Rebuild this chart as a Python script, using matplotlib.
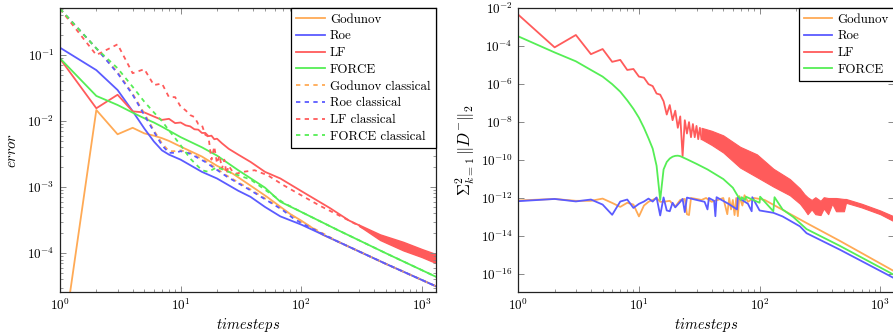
import numpy as np
import matplotlib
matplotlib.use("Agg")
import matplotlib.pyplot as plt
from matplotlib.ticker import LogLocator, FixedLocator, NullLocator, NullFormatter

plt.rcParams["font.family"] = "serif"
plt.rcParams["font.serif"] = ["cmr10", "DejaVu Serif"]
plt.rcParams["mathtext.fontset"] = "cm"
plt.rcParams["axes.formatter.use_mathtext"] = True

C_GOD = "#FFAA55"
C_ROE = "#5B5BFF"
C_LF = "#FF5B5B"
C_FORCE = "#55EE55"

# ---------------- error vs. timesteps ----------------
god_t = [1, 2, 3, 4, 5, 6, 7, 8, 10, 15, 20, 27, 38, 52, 81, 100, 150, 200, 500, 1300]
god_err = [2.2e-6, 0.0147, 0.0063, 0.0079, 0.0065, 0.0060, 0.0055, 0.0050, 0.0041, 0.0029,
           0.0021, 0.0016, 1.05e-3, 7.1e-4, 3.9e-4, 3.1e-4, 1.9e-4, 1.5e-4, 6.9e-5, 3.16e-5]

roe_t = [1, 2, 3, 4, 5, 6, 7, 8, 10, 15, 20, 30, 38, 50, 67, 100, 200, 500, 1300]
roe_err = [0.129, 0.059, 0.0295, 0.0141, 0.0077, 0.0049, 0.0036, 0.0031, 0.0026, 0.0017,
           0.00135, 8.8e-4, 7.1e-4, 5.0e-4, 3.6e-4, 2.7e-4, 1.5e-4, 6.9e-5, 3.16e-5]

lf_t = [1, 2, 3, 4, 5, 6, 7, 8, 9, 10, 11, 12, 13, 14, 15, 16, 17, 18, 19, 20,
        22, 25, 30, 38, 50, 67, 100, 173, 250, 300]
lf_err = [0.088, 0.0156, 0.025, 0.014, 0.0135, 0.0117, 0.0104, 0.0108, 0.0093, 0.0095,
          0.0086, 0.0083, 0.0075, 0.0074, 0.0066, 0.0066, 0.0059, 0.0060, 0.0053, 0.0054,
          0.0046, 0.0038, 0.0031, 0.0024, 0.0017, 0.00135, 8.7e-4, 4.8e-4, 3.1e-4, 2.65e-4]
lf_band_t = [300, 450, 700, 1000, 1300]
lf_band_hi = [2.7e-4, 1.92e-4, 1.48e-4, 1.15e-4, 9.7e-5]
lf_band_lo = [2.6e-4, 1.58e-4, 1.1e-4, 8.7e-5, 7.1e-5]

force_t = [1, 2, 3, 4, 5, 6, 7, 10, 15, 20, 30, 50, 67, 100, 200, 500, 1300]
force_err = [0.089, 0.024, 0.0175, 0.0134, 0.011, 0.0095, 0.0082, 0.0057, 0.0040, 0.0030,
             0.0018, 9.8e-4, 6.0e-4, 4.2e-4, 2.24e-4, 1.0e-4, 4.4e-5]

godc_t = [1, 2, 3, 4, 5, 6, 7, 8, 9, 10, 12, 16, 24, 38, 70, 100, 200, 500, 1300]
godc_err = [0.5, 0.126, 0.055, 0.026, 0.013, 0.0072, 0.0046, 0.0035, 0.0035, 0.0036,
            0.0033, 0.0025, 0.0015, 9.2e-4, 4.6e-4, 3.0e-4, 1.5e-4, 6.9e-5, 3.16e-5]

roec_t = [1, 2, 3, 4, 5, 6, 7, 8, 9, 10, 12, 16, 24, 38, 70, 85, 100, 200, 500, 1300]
roec_err = [0.5, 0.126, 0.053, 0.025, 0.0123, 0.0069, 0.0043, 0.0033, 0.0033, 0.0035,
            0.0032, 0.0024, 0.00145, 8.9e-4, 4.5e-4, 3.4e-4, 2.85e-4, 1.5e-4, 6.9e-5, 3.16e-5]

lfc_t = [1, 2, 3, 4, 5, 6, 7, 8, 9, 10, 11, 12, 13, 14, 15, 16, 17, 18, 19, 20,
         21, 22, 23, 24, 25, 27, 29, 33, 41, 53, 71, 100, 143, 190, 250, 450, 1300]
lfc_err = [0.5, 0.1, 0.145, 0.053, 0.061, 0.035, 0.037, 0.023, 0.023, 0.0165,
           0.0145, 0.0123, 0.0115, 0.0090, 0.0087, 0.0062, 0.0058, 0.0026, 0.0041, 0.0023,
           0.0030, 0.0019, 0.0026, 0.0016, 0.0021, 0.0017, 0.0016, 0.0017, 0.0018, 0.0015,
           0.00107, 7.5e-4, 5.2e-4, 4.0e-4, 3.1e-4, 1.74e-4, 8.3e-5]

forcec_t = [1, 2, 3, 4, 5, 6, 7, 8, 9, 10, 12, 15, 17, 20, 25, 38, 71, 100, 200, 500, 1300]
forcec_err = [0.5, 0.126, 0.063, 0.033, 0.0196, 0.0135, 0.0100, 0.0072, 0.0055, 0.0043,
              0.0027, 0.0018, 0.0017, 0.0020, 0.0017, 0.0013, 5.8e-4, 4.2e-4, 2.24e-4,
              1.0e-4, 4.4e-5]

# ---------------- sum of ||D^-||_2 vs. timesteps ----------------
god_d_t = [1, 2, 3, 4, 5, 6, 7, 8, 9, 10, 11, 12, 14, 15, 16, 18, 20, 22, 24, 25, 26, 27,
           30, 33, 36, 40, 45, 50, 54, 56, 58, 60, 62, 64, 66, 68, 72, 75, 80, 90, 100,
           110, 245, 465, 1300]
god_d = [7.4e-13, 8.9e-13, 7.1e-13, 7.1e-13, 9.3e-13, 5.5e-13, 3.4e-13, 5.6e-13, 4.5e-13,
         1.07e-13, 4.0e-13, 6.3e-13, 1.0e-12, 6.3e-13, 6.3e-13, 7.1e-13, 3.5e-13, 7.9e-13,
         8.9e-13, 1.4e-13, 1.26e-13, 1.0e-12, 8.9e-13, 7.9e-13, 1.0e-12, 6.3e-13, 7.9e-13,
         1.0e-12, 1.4e-13, 1.0e-12, 2.5e-13, 7.9e-13, 1.26e-13, 1.0e-12, 1.1e-13, 1.26e-12,
         4.0e-13, 1.4e-12, 6.3e-13, 1.0e-12, 8.9e-13, 7.9e-13, 4.8e-14, 5.4e-15, 1.4e-16]

roe_d_t = [1, 2, 3, 4, 5, 6, 7, 8, 9, 10, 11, 12, 13, 14, 15, 16, 17, 18, 19, 20, 22, 23,
           24, 25, 30, 35, 37, 38, 42, 43, 44, 55, 65, 66, 80, 86, 87, 100, 130, 155, 216,
           245, 465, 1300]
roe_d = [6.8e-13, 8.9e-13, 6.6e-13, 8.3e-13, 4.5e-13, 1.3e-13, 6.5e-13, 8.3e-13, 3.0e-13,
         4.9e-13, 6.5e-13, 9.3e-13, 6.5e-13, 1.07e-12, 1.2e-13, 1.07e-12, 2.2e-13, 2.0e-13,
         5.6e-13, 3.2e-13, 6.3e-13, 8.9e-13, 1.8e-13, 1.05e-12, 7.9e-13, 6.3e-13, 2.5e-13,
         1.0e-12, 7.1e-13, 1.1e-13, 1.1e-12, 5.0e-13, 2.5e-13, 1.07e-12, 5.0e-13, 2.0e-13,
         1.1e-12, 2.2e-13, 1.66e-13, 1.07e-13, 3.2e-14, 1.4e-14, 1.86e-15, 6.0e-17]

lf_d_t = [1, 2, 3, 4, 5, 6, 7, 8, 9, 10, 11, 12, 13, 14, 15, 16, 17, 18, 19, 20, 21, 22,
          23, 24, 25, 26, 27, 28, 29, 30, 31, 32, 33]
lf_d = [4.57e-3, 8.7e-5, 3.9e-4, 3.8e-5, 7.1e-5, 1.5e-5, 1.9e-5, 5.6e-6, 6.3e-6, 2.5e-6,
        2.2e-6, 1.0e-6, 7.9e-7, 3.2e-7, 2.8e-7, 1.26e-7, 2.5e-8, 7.9e-8, 1.26e-8, 4.0e-8,
        5.0e-9, 2.0e-8, 1.6e-10, 1.26e-8, 2.5e-9, 1.0e-8, 1.6e-9, 7.9e-9, 1.6e-9, 6.3e-9,
        1.26e-9, 5.0e-9, 1.26e-9]
lf_d_band_t = [33, 40, 50, 69, 95, 130, 178, 216, 235, 250, 270, 290, 320, 340, 370, 400,
               430, 500, 520, 700, 1000, 1300]
lf_d_band_hi = [5.0e-9, 3.5e-9, 2.0e-9, 5.0e-10, 2.0e-10, 3.5e-11, 1.0e-11, 3.2e-12, 1.6e-12,
                1.1e-12, 7.9e-13, 1.1e-12, 7.1e-13, 1.1e-12, 1.0e-12, 1.0e-12, 1.0e-12,
                8.9e-13, 8.9e-13, 5.0e-13, 2.2e-13, 1.07e-13]
lf_d_band_lo = [1.26e-9, 6.3e-10, 2.5e-10, 4.0e-11, 1.26e-11, 4.0e-12, 1.4e-12, 5.0e-13,
                2.5e-13, 1.4e-13, 2.5e-13, 1.4e-13, 1.26e-13, 2.8e-13, 1.4e-13, 5.0e-13,
                2.0e-13, 2.0e-13, 5.6e-13, 3.2e-13, 1.4e-13, 5.9e-14]

force_d_t = [1, 2, 3, 4, 5, 6, 7, 8, 9, 10, 11, 12, 13, 14, 15, 16, 17, 18, 19, 20, 21, 22,
             25, 30, 37, 50, 60, 66, 70, 71, 76, 77, 100, 101, 130, 133, 155, 190, 245, 465,
             1300]
force_d = [3.3e-4, 4.7e-5, 1.6e-5, 5.6e-6, 2.5e-6, 1.0e-6, 4.0e-7, 1.4e-7, 5.0e-8, 1.7e-8,
           5.0e-9, 1.4e-9, 4.0e-10, 5.0e-11, 7.9e-13, 3.2e-11, 7.9e-11, 1.2e-10, 1.5e-10,
           1.66e-10, 1.7e-10, 1.6e-10, 1.1e-10, 6.3e-11, 3.2e-11, 1.0e-11, 3.5e-12, 1.26e-12,
           7.9e-13, 1.1e-12, 7.9e-13, 1.17e-12, 5.6e-13, 1.17e-12, 2.0e-13, 1.1e-12, 2.5e-13,
           1.0e-13, 2.3e-14, 2.95e-15, 8.9e-17]

fig = plt.figure(figsize=(8.93, 3.33), dpi=100)
ax1 = fig.add_axes([0.0672, 0.1222, 0.4207, 0.853])
ax2 = fig.add_axes([0.5804, 0.1222, 0.4207, 0.853])

LW = 1.3
DASH = (0, (2.4, 2.4))

ax1.plot(god_t, god_err, color=C_GOD, lw=LW, label="Godunov")
ax1.plot(roe_t, roe_err, color=C_ROE, lw=LW, label="Roe")
ax1.plot(lf_t, lf_err, color=C_LF, lw=LW, label="LF")
ax1.fill_between(lf_band_t, lf_band_lo, lf_band_hi, color=C_LF, lw=1.0)
ax1.plot(force_t, force_err, color=C_FORCE, lw=LW, label="FORCE")
ax1.plot(godc_t, godc_err, color=C_GOD, lw=LW, ls=DASH, label="Godunov classical")
ax1.plot(roec_t, roec_err, color=C_ROE, lw=LW, ls=DASH, label="Roe classical")
ax1.plot(lfc_t, lfc_err, color=C_LF, lw=LW, ls=DASH, label="LF classical")
ax1.plot(forcec_t, forcec_err, color=C_FORCE, lw=LW, ls=DASH, label="FORCE classical")

ax2.plot(god_d_t, god_d, color=C_GOD, lw=LW, label="Godunov")
ax2.plot(roe_d_t, roe_d, color=C_ROE, lw=LW, label="Roe")
ax2.plot(lf_d_t, lf_d, color=C_LF, lw=LW, label="LF")
ax2.fill_between(lf_d_band_t, lf_d_band_lo, lf_d_band_hi, color=C_LF, lw=0.8)
ax2.plot(force_d_t, force_d, color=C_FORCE, lw=LW, label="FORCE")

for ax in (ax1, ax2):
    ax.set_xscale("log")
    ax.set_yscale("log")
    ax.set_xlim(1, 1300)
    ax.xaxis.set_major_locator(LogLocator(base=10, numticks=10))
    ax.xaxis.set_minor_locator(LogLocator(base=10, subs=np.arange(2, 10), numticks=20))
    ax.xaxis.set_minor_formatter(NullFormatter())
    ax.tick_params(which="both", direction="in", top=True, right=True,
                   color="#888888", labelsize=9.5, pad=4)
    ax.tick_params(which="major", length=4, width=0.7)
    ax.tick_params(which="minor", length=2.2, width=0.6)
    for s in ax.spines.values():
        s.set_color("#222222")
        s.set_linewidth(0.9)
    ax.set_xlabel(r"$timesteps$", fontsize=10.5, labelpad=2)
    leg = ax.legend(loc="upper right", borderaxespad=0, fancybox=False, framealpha=1,
                    edgecolor="black", fontsize=9.3, handlelength=2.2, labelspacing=0.36,
                    borderpad=0.4, handletextpad=0.4)
    leg.get_frame().set_linewidth(0.9)

ax1.set_ylim(2.55e-5, 0.51)
ax1.yaxis.set_major_locator(LogLocator(base=10, numticks=10))
ax1.yaxis.set_minor_locator(LogLocator(base=10, subs=np.arange(2, 10), numticks=20))
ax1.yaxis.set_minor_formatter(NullFormatter())
ax1.set_ylabel(r"$error$", fontsize=10.5, labelpad=6)

ax2.set_ylim(1.07e-17, 1e-2)
ax2.yaxis.set_major_locator(FixedLocator([1e-2, 1e-4, 1e-6, 1e-8, 1e-10, 1e-12, 1e-14, 1e-16]))
ax2.yaxis.set_minor_locator(NullLocator())
ax2.set_ylabel(r"$\Sigma_{k=1}^{2}\,\Vert D^{-}\Vert_2$", fontsize=12, labelpad=3)

fig.savefig("out.png", dpi=100)
